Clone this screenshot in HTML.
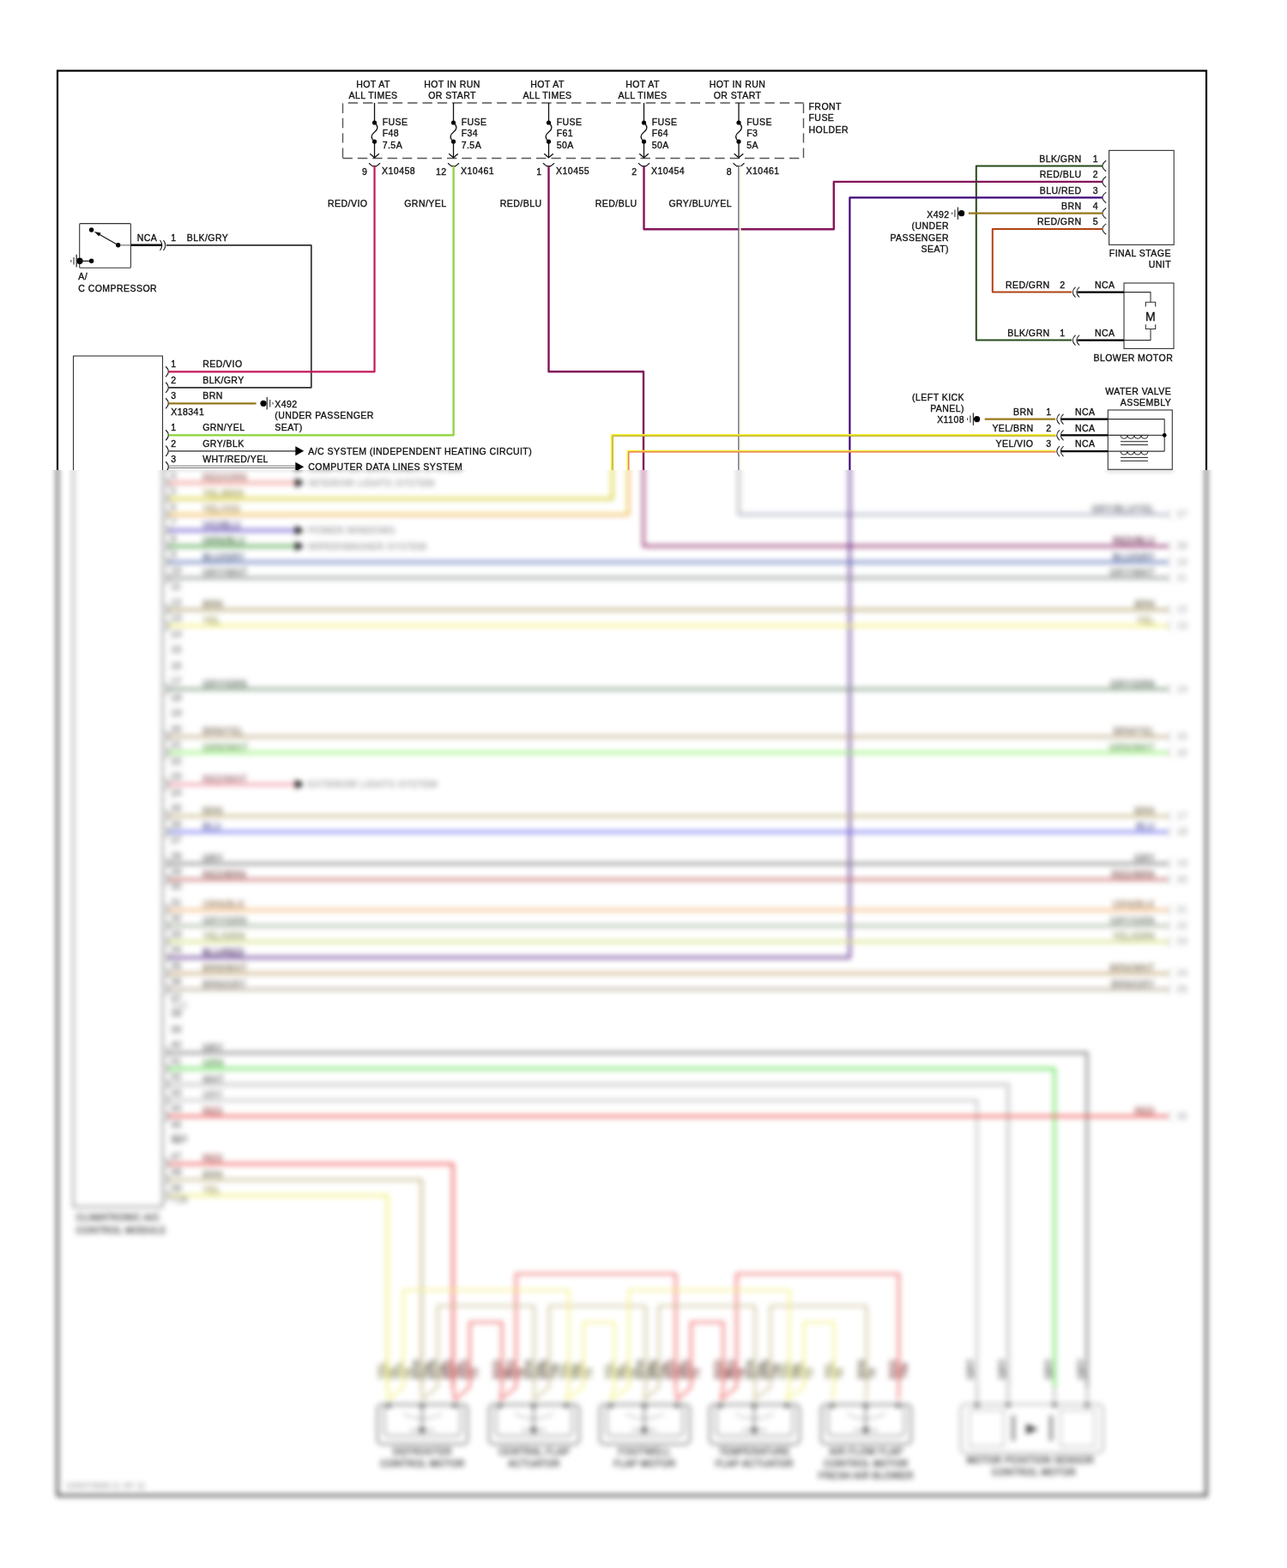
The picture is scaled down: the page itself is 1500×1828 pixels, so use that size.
<!DOCTYPE html>
<html><head><meta charset="utf-8"><title>Heater Wiring Diagram</title>
<style>
html,body{margin:0;padding:0;background:#fff;}
body{width:1500px;height:1828px;overflow:hidden;position:relative;}
svg{position:absolute;left:0;top:0;display:block;}
text{font-family:"Liberation Sans",Arial,Helvetica,sans-serif;font-size:10.5px;letter-spacing:0.45px;fill:#111;stroke:#111;stroke-width:0.35px;}
</style></head><body>
<svg width="1500" height="1828" viewBox="0 0 1500 1828">
<defs>
<filter id="lb" filterUnits="userSpaceOnUse" primitiveUnits="userSpaceOnUse" x="0" y="0" width="1500" height="1828" color-interpolation-filters="sRGB">
<feGaussianBlur in="SourceGraphic" stdDeviation="3" result="b"/>
<feFlood flood-color="#000" x="0" y="548" width="1500" height="1280" result="m1"/>
<feComposite in="b" in2="m1" operator="in" result="bm"/>
<feFlood flood-color="#000" x="0" y="0" width="1500" height="548" result="m2"/>
<feComposite in="SourceGraphic" in2="m2" operator="in" result="sm"/>
<feMerge><feMergeNode in="sm"/><feMergeNode in="bm"/></feMerge>
</filter>
</defs>
<g filter="url(#lb)">
<rect x="0" y="0" width="1500" height="1828" fill="#fff"/>
<rect x="67.0" y="82.5" width="1339.0" height="1661.0" rx="0" stroke="#000" stroke-width="2.2" fill="none"/>
<path d="M399.5 120 L936.5 120" fill="none" stroke="#555" stroke-width="1.4" stroke-dasharray="11.4 5.95" stroke-dashoffset="11.2"/>
<path d="M399.5 184.5 L936.5 184.5" fill="none" stroke="#555" stroke-width="1.4" stroke-dasharray="11.4 5.95" stroke-dashoffset="0"/>
<path d="M399.5 120.5 L399.5 184.5" fill="none" stroke="#555" stroke-width="1.4" stroke-dasharray="11.4 5.95" stroke-dashoffset="0"/>
<path d="M936.5 120.5 L936.5 184.5" fill="none" stroke="#555" stroke-width="1.4" stroke-dasharray="11.4 5.95" stroke-dashoffset="0"/>
<text x="435.0" y="101.6" text-anchor="middle">HOT AT</text>
<text x="435.0" y="115.0" text-anchor="middle">ALL TIMES</text>
<path d="M436.5 120.0 L436.5 143.0" stroke="#111" stroke-width="1.3" fill="none" stroke-linejoin="round"/>
<path d="M436.5 143 C441.5 147 440.5 151 436.5 154 C432.5 157 431.5 161 436.5 165" stroke="#111" stroke-width="1.3" fill="none"/>
<path d="M436.5 165.0 L436.5 183.8" stroke="#111" stroke-width="1.3" fill="none" stroke-linejoin="round"/>
<path d="M431.2 179.3 L436.5 183.8 L441.8 179.3" stroke="#111" stroke-width="1.3" fill="none" stroke-linejoin="round"/>
<circle cx="436.5" cy="143.0" r="2.6" fill="#000"/>
<circle cx="436.5" cy="165.0" r="2.6" fill="#000"/>
<text x="445.7" y="145.8">FUSE</text>
<text x="445.7" y="159.3">F48</text>
<text x="445.7" y="172.8">7.5A</text>
<path d="M430.0 190.3 L434.0 193.6 L439.0 193.6 L443.0 190.3" stroke="#111" stroke-width="1.2" fill="none" stroke-linejoin="round"/>
<text x="428.4" y="204.2" text-anchor="end">9</text>
<text x="445.1" y="203.4">X10458</text>
<text x="428.4" y="241.0" text-anchor="end">RED/VIO</text>
<text x="527.0" y="101.6" text-anchor="middle">HOT IN RUN</text>
<text x="527.0" y="115.0" text-anchor="middle">OR START</text>
<path d="M528.5 120.0 L528.5 143.0" stroke="#111" stroke-width="1.3" fill="none" stroke-linejoin="round"/>
<path d="M528.5 143 C533.5 147 532.5 151 528.5 154 C524.5 157 523.5 161 528.5 165" stroke="#111" stroke-width="1.3" fill="none"/>
<path d="M528.5 165.0 L528.5 183.8" stroke="#111" stroke-width="1.3" fill="none" stroke-linejoin="round"/>
<path d="M523.2 179.3 L528.5 183.8 L533.8 179.3" stroke="#111" stroke-width="1.3" fill="none" stroke-linejoin="round"/>
<circle cx="528.5" cy="143.0" r="2.6" fill="#000"/>
<circle cx="528.5" cy="165.0" r="2.6" fill="#000"/>
<text x="537.7" y="145.8">FUSE</text>
<text x="537.7" y="159.3">F34</text>
<text x="537.7" y="172.8">7.5A</text>
<path d="M522.0 190.3 L526.0 193.6 L531.0 193.6 L535.0 190.3" stroke="#111" stroke-width="1.2" fill="none" stroke-linejoin="round"/>
<text x="520.5" y="204.2" text-anchor="end">12</text>
<text x="537.1" y="203.4">X10461</text>
<text x="520.5" y="241.0" text-anchor="end">GRN/YEL</text>
<text x="638.0" y="101.6" text-anchor="middle">HOT AT</text>
<text x="638.0" y="115.0" text-anchor="middle">ALL TIMES</text>
<path d="M639.5 120.0 L639.5 143.0" stroke="#111" stroke-width="1.3" fill="none" stroke-linejoin="round"/>
<path d="M639.5 143 C644.5 147 643.5 151 639.5 154 C635.5 157 634.5 161 639.5 165" stroke="#111" stroke-width="1.3" fill="none"/>
<path d="M639.5 165.0 L639.5 183.8" stroke="#111" stroke-width="1.3" fill="none" stroke-linejoin="round"/>
<path d="M634.2 179.3 L639.5 183.8 L644.8 179.3" stroke="#111" stroke-width="1.3" fill="none" stroke-linejoin="round"/>
<circle cx="639.5" cy="143.0" r="2.6" fill="#000"/>
<circle cx="639.5" cy="165.0" r="2.6" fill="#000"/>
<text x="648.7" y="145.8">FUSE</text>
<text x="648.7" y="159.3">F61</text>
<text x="648.7" y="172.8">50A</text>
<path d="M633.0 190.3 L637.0 193.6 L642.0 193.6 L646.0 190.3" stroke="#111" stroke-width="1.2" fill="none" stroke-linejoin="round"/>
<text x="631.5" y="204.2" text-anchor="end">1</text>
<text x="648.1" y="203.4">X10455</text>
<text x="631.5" y="241.0" text-anchor="end">RED/BLU</text>
<text x="749.0" y="101.6" text-anchor="middle">HOT AT</text>
<text x="749.0" y="115.0" text-anchor="middle">ALL TIMES</text>
<path d="M750.5 120.0 L750.5 143.0" stroke="#111" stroke-width="1.3" fill="none" stroke-linejoin="round"/>
<path d="M750.5 143 C755.5 147 754.5 151 750.5 154 C746.5 157 745.5 161 750.5 165" stroke="#111" stroke-width="1.3" fill="none"/>
<path d="M750.5 165.0 L750.5 183.8" stroke="#111" stroke-width="1.3" fill="none" stroke-linejoin="round"/>
<path d="M745.2 179.3 L750.5 183.8 L755.8 179.3" stroke="#111" stroke-width="1.3" fill="none" stroke-linejoin="round"/>
<circle cx="750.5" cy="143.0" r="2.6" fill="#000"/>
<circle cx="750.5" cy="165.0" r="2.6" fill="#000"/>
<text x="759.7" y="145.8">FUSE</text>
<text x="759.7" y="159.3">F64</text>
<text x="759.7" y="172.8">50A</text>
<path d="M744.0 190.3 L748.0 193.6 L753.0 193.6 L757.0 190.3" stroke="#111" stroke-width="1.2" fill="none" stroke-linejoin="round"/>
<text x="742.5" y="204.2" text-anchor="end">2</text>
<text x="759.1" y="203.4">X10454</text>
<text x="742.5" y="241.0" text-anchor="end">RED/BLU</text>
<text x="859.5" y="101.6" text-anchor="middle">HOT IN RUN</text>
<text x="859.5" y="115.0" text-anchor="middle">OR START</text>
<path d="M861.0 120.0 L861.0 143.0" stroke="#111" stroke-width="1.3" fill="none" stroke-linejoin="round"/>
<path d="M861.0 143 C866.0 147 865.0 151 861.0 154 C857.0 157 856.0 161 861.0 165" stroke="#111" stroke-width="1.3" fill="none"/>
<path d="M861.0 165.0 L861.0 183.8" stroke="#111" stroke-width="1.3" fill="none" stroke-linejoin="round"/>
<path d="M855.7 179.3 L861.0 183.8 L866.3 179.3" stroke="#111" stroke-width="1.3" fill="none" stroke-linejoin="round"/>
<circle cx="861.0" cy="143.0" r="2.6" fill="#000"/>
<circle cx="861.0" cy="165.0" r="2.6" fill="#000"/>
<text x="870.2" y="145.8">FUSE</text>
<text x="870.2" y="159.3">F3</text>
<text x="870.2" y="172.8">5A</text>
<path d="M854.5 190.3 L858.5 193.6 L863.5 193.6 L867.5 190.3" stroke="#111" stroke-width="1.2" fill="none" stroke-linejoin="round"/>
<text x="853.0" y="204.2" text-anchor="end">8</text>
<text x="869.6" y="203.4">X10461</text>
<text x="853.0" y="241.0" text-anchor="end">GRY/BLU/YEL</text>
<text x="942.5" y="128.0">FRONT</text>
<text x="942.5" y="141.4">FUSE</text>
<text x="942.5" y="154.8">HOLDER</text>
<rect x="92.7" y="260.6" width="59.7" height="51.7" rx="1" stroke="#333" stroke-width="1.1" fill="none"/>
<circle cx="106.6" cy="268.0" r="2.7" fill="#000"/>
<circle cx="137.7" cy="285.8" r="2.7" fill="#000"/>
<path d="M137.7 285.8 L113.5 271.9" stroke="#111" stroke-width="1.2" fill="none" stroke-linejoin="round"/>
<path d="M109.8 269.9 L117.6 271.6 L115.2 275.4 Z" fill="#111"/>
<circle cx="92.9" cy="304.3" r="3.7" fill="#000"/>
<circle cx="106.6" cy="304.3" r="2.7" fill="#000"/>
<path d="M92.9 304.3 L106.6 304.3" stroke="#111" stroke-width="1.2" fill="none" stroke-linejoin="round"/>
<path d="M89.2 296.8 L89.2 311.6" stroke="#333" stroke-width="1.3" fill="none" stroke-linejoin="round"/>
<path d="M86.0 300.0 L86.0 308.6" stroke="#444" stroke-width="1.2" fill="none" stroke-linejoin="round"/>
<path d="M82.8 303.0 L82.8 305.8" stroke="#555" stroke-width="1.2" fill="none" stroke-linejoin="round"/>
<path d="M140.0 285.8 L152.5 285.8" stroke="#888" stroke-width="1.4" fill="none" stroke-linejoin="round"/>
<path d="M152.5 285.8 L188.5 285.8" stroke="#000" stroke-width="2.4" fill="none" stroke-linejoin="round"/>
<path d="M186.5 280 Q191 286 186.5 292" stroke="#111" stroke-width="1.1" fill="none"/>
<path d="M190.5 280 Q195 286 190.5 292" stroke="#111" stroke-width="1.1" fill="none"/>
<path d="M194.0 285.8 L362.8 285.8 L362.8 451.8 L196.6 451.8" stroke="#303030" stroke-width="1.7" fill="none" stroke-linejoin="round"/>
<text x="159.8" y="281.2">NCA</text>
<text x="199.3" y="281.2">1</text>
<text x="217.8" y="281.2">BLK/GRY</text>
<text x="91.3" y="326.2">A/</text>
<text x="91.3" y="339.6">C COMPRESSOR</text>
<rect x="85.5" y="415.0" width="104.0" height="992.0" rx="0" stroke="#333" stroke-width="1.1" fill="none"/>
<path d="M193.2 427.3 Q199.5 433.3 193.2 439.3" stroke="#1a1a1a" stroke-width="1.2" fill="none"/>
<path d="M193.2 445.8 Q199.5 451.8 193.2 457.8" stroke="#1a1a1a" stroke-width="1.2" fill="none"/>
<path d="M193.2 464.3 Q199.5 470.3 193.2 476.3" stroke="#1a1a1a" stroke-width="1.2" fill="none"/>
<path d="M196.6 433.3 L436.5 433.3 L436.5 193.6" stroke="#c4185a" stroke-width="2.2" fill="none" stroke-linejoin="round"/>
<text x="199.3" y="428.4">1</text>
<text x="236.2" y="428.4">RED/VIO</text>
<text x="199.3" y="446.9">2</text>
<text x="236.2" y="446.9">BLK/GRY</text>
<text x="199.3" y="465.4">3</text>
<text x="236.2" y="465.4">BRN</text>
<path d="M196.6 470.3 L298.5 470.3" stroke="#96781a" stroke-width="2.2" fill="none" stroke-linejoin="round"/>
<circle cx="307.0" cy="470.3" r="3.6" fill="#000"/>
<path d="M311.2 463.1 L311.2 477.5" stroke="#333" stroke-width="1.3" fill="none" stroke-linejoin="round"/>
<path d="M314.7 466.1 L314.7 474.5" stroke="#444" stroke-width="1.2" fill="none" stroke-linejoin="round"/>
<path d="M318.0 469.0 L318.0 471.6" stroke="#555" stroke-width="1.2" fill="none" stroke-linejoin="round"/>
<text x="320.3" y="474.6">X492</text>
<text x="320.3" y="488.2">(UNDER PASSENGER</text>
<text x="320.3" y="501.8">SEAT)</text>
<text x="199.3" y="483.8">X18341</text>
<path d="M193.2 501.3 Q199.5 507.3 193.2 513.3" stroke="#1a1a1a" stroke-width="1.2" fill="none"/>
<path d="M193.2 519.8 Q199.5 525.8 193.2 531.8" stroke="#1a1a1a" stroke-width="1.2" fill="none"/>
<path d="M193.2 538.3 Q199.5 544.3 193.2 550.3" stroke="#1a1a1a" stroke-width="1.2" fill="none"/>
<path d="M196.6 507.3 L528.6 507.3 L528.6 193.6" stroke="#8cd236" stroke-width="2.2" fill="none" stroke-linejoin="round"/>
<text x="199.3" y="502.4">1</text>
<text x="236.2" y="502.4">GRN/YEL</text>
<text x="199.3" y="520.9">2</text>
<text x="236.2" y="520.9">GRY/BLK</text>
<text x="199.3" y="539.4">3</text>
<text x="236.2" y="539.4">WHT/RED/YEL</text>
<path d="M196.6 525.8 L345.0 525.8" stroke="#666" stroke-width="1.7" fill="none" stroke-linejoin="round"/>
<path d="M196.6 543.1 L345.0 543.1" stroke="#777" stroke-width="1.0" fill="none" stroke-linejoin="round"/>
<path d="M196.6 545.5 L345.0 545.5" stroke="#777" stroke-width="1.0" fill="none" stroke-linejoin="round"/>
<path d="M344.3 520.3 L354.2 525.8 L344.3 531.3 Z" fill="#000"/>
<path d="M344.3 538.8 L354.2 544.3 L344.3 549.8 Z" fill="#000"/>
<text x="359.3" y="529.6">A/C SYSTEM (INDEPENDENT HEATING CIRCUIT)</text>
<text x="359.3" y="548.1">COMPUTER DATA LINES SYSTEM</text>
<path d="M639.5 193.6 L639.5 433.3 L750.0 433.3 L750.0 636.8 L1361.0 636.8" stroke="#84145a" stroke-width="2.4" fill="none" stroke-linejoin="round"/>
<path d="M750.5 193.6 L750.5 267.3 L971.8 267.3 L971.8 211.9 L1285.0 211.9" stroke="#84145a" stroke-width="2.4" fill="none" stroke-linejoin="round"/>
<path d="M862.6 193.6 L862.6 598.3" stroke="#fcf7d8" stroke-width="2.0" fill="none" stroke-linejoin="round"/>
<path d="M860.8 193.6 L860.8 599.8 L1361.0 599.8" stroke="#6a7090" stroke-width="1.4" fill="none" stroke-linejoin="round"/>
<rect x="1292.6" y="175.4" width="75.6" height="110.0" rx="0" stroke="#333" stroke-width="1.1" fill="none"/>
<path d="M1289.2 187.3 Q1280.6 193.5 1289.2 199.7" stroke="#222" stroke-width="1.1" fill="none"/>
<text x="1260.5" y="188.7" text-anchor="end">BLK/GRN</text>
<text x="1273.8" y="188.7">1</text>
<path d="M1289.2 205.7 Q1280.6 211.9 1289.2 218.1" stroke="#222" stroke-width="1.1" fill="none"/>
<text x="1260.5" y="207.1" text-anchor="end">RED/BLU</text>
<text x="1273.8" y="207.1">2</text>
<path d="M1289.2 224.1 Q1280.6 230.3 1289.2 236.5" stroke="#222" stroke-width="1.1" fill="none"/>
<text x="1260.5" y="225.5" text-anchor="end">BLU/RED</text>
<text x="1273.8" y="225.5">3</text>
<path d="M1289.2 242.5 Q1280.6 248.7 1289.2 254.9" stroke="#222" stroke-width="1.1" fill="none"/>
<text x="1260.5" y="243.9" text-anchor="end">BRN</text>
<text x="1273.8" y="243.9">4</text>
<path d="M1289.2 260.9 Q1280.6 267.1 1289.2 273.3" stroke="#222" stroke-width="1.1" fill="none"/>
<text x="1260.5" y="262.3" text-anchor="end">RED/GRN</text>
<text x="1273.8" y="262.3">5</text>
<text x="1292.8" y="299.2">FINAL STAGE</text>
<text x="1365.0" y="312.0" text-anchor="end">UNIT</text>
<path d="M1285.0 193.5 L1137.8 193.5 L1137.8 396.6 L1249.0 396.6" stroke="#274a1c" stroke-width="2.0" fill="none" stroke-linejoin="round"/>
<path d="M1285.0 230.3 L990.4 230.3 L990.4 1116.3 L196.6 1116.3" stroke="#40087a" stroke-width="2.2" fill="none" stroke-linejoin="round"/>
<path d="M1285.0 248.7 L1128.8 248.7" stroke="#96781a" stroke-width="2.2" fill="none" stroke-linejoin="round"/>
<path d="M1285.0 267.1 L1156.8 267.1 L1156.8 340.6 L1249.0 340.6" stroke="#b04414" stroke-width="2.0" fill="none" stroke-linejoin="round"/>
<circle cx="1120.6" cy="248.7" r="3.6" fill="#000"/>
<path d="M1116.4 241.5 L1116.4 255.9" stroke="#333" stroke-width="1.3" fill="none" stroke-linejoin="round"/>
<path d="M1112.9 244.5 L1112.9 252.9" stroke="#444" stroke-width="1.2" fill="none" stroke-linejoin="round"/>
<path d="M1109.6 247.4 L1109.6 250.0" stroke="#555" stroke-width="1.2" fill="none" stroke-linejoin="round"/>
<text x="1106.5" y="253.8" text-anchor="end">X492</text>
<text x="1106.0" y="267.3" text-anchor="end">(UNDER</text>
<text x="1106.0" y="280.8" text-anchor="end">PASSENGER</text>
<text x="1106.0" y="294.3" text-anchor="end">SEAT)</text>
<rect x="1310.0" y="330.0" width="58.0" height="76.4" rx="0" stroke="#333" stroke-width="1.1" fill="none"/>
<path d="M1253.5 334.6 Q1247 340.6 1253.5 346.6" stroke="#222" stroke-width="1.1" fill="none"/>
<path d="M1258 334.6 Q1251.5 340.6 1258 346.6" stroke="#222" stroke-width="1.1" fill="none"/>
<path d="M1255.5 340.6 L1310.0 340.6" stroke="#000" stroke-width="2.2" fill="none" stroke-linejoin="round"/>
<text x="1223.5" y="336.0" text-anchor="end">RED/GRN</text>
<text x="1235.2" y="336.0">2</text>
<text x="1276.0" y="336.0">NCA</text>
<path d="M1253.5 390.6 Q1247 396.6 1253.5 402.6" stroke="#222" stroke-width="1.1" fill="none"/>
<path d="M1258 390.6 Q1251.5 396.6 1258 402.6" stroke="#222" stroke-width="1.1" fill="none"/>
<path d="M1255.5 396.6 L1310.0 396.6" stroke="#000" stroke-width="2.2" fill="none" stroke-linejoin="round"/>
<text x="1223.5" y="392.0" text-anchor="end">BLK/GRN</text>
<text x="1235.2" y="392.0">1</text>
<text x="1276.0" y="392.0">NCA</text>
<path d="M1310.0 340.6 L1341.0 340.6 L1341.0 352.3" stroke="#333" stroke-width="1.1" fill="none" stroke-linejoin="round"/>
<path d="M1310.0 396.6 L1341.0 396.6 L1341.0 383.5" stroke="#333" stroke-width="1.1" fill="none" stroke-linejoin="round"/>
<path d="M1335.3 357.5 L1335.3 352.3 L1346.7 352.3 L1346.7 357.5" stroke="#333" stroke-width="1.1" fill="none" stroke-linejoin="round"/>
<path d="M1335.3 378.3 L1335.3 383.5 L1346.7 383.5 L1346.7 378.3" stroke="#333" stroke-width="1.1" fill="none" stroke-linejoin="round"/>
<text x="1341.0" y="373.5" text-anchor="middle" style="font-size:14px;">M</text>
<text x="1367.2" y="421.2" text-anchor="end">BLOWER MOTOR</text>
<rect x="1291.3" y="478.0" width="75.0" height="69.3" rx="0" stroke="#333" stroke-width="1.1" fill="none"/>
<path d="M1235 482.6 Q1228.5 488.6 1235 494.6" stroke="#222" stroke-width="1.1" fill="none"/>
<path d="M1239.5 482.6 Q1233 488.6 1239.5 494.6" stroke="#222" stroke-width="1.1" fill="none"/>
<path d="M1237.0 488.6 L1291.3 488.6" stroke="#000" stroke-width="2.2" fill="none" stroke-linejoin="round"/>
<path d="M1291.3 488.6 L1357.2 488.6" stroke="#333" stroke-width="1.1" fill="none" stroke-linejoin="round"/>
<text x="1204.5" y="483.7" text-anchor="end">BRN</text>
<text x="1219.2" y="483.7">1</text>
<text x="1253.0" y="483.7">NCA</text>
<path d="M1235 501.4 Q1228.5 507.4 1235 513.4" stroke="#222" stroke-width="1.1" fill="none"/>
<path d="M1239.5 501.4 Q1233 507.4 1239.5 513.4" stroke="#222" stroke-width="1.1" fill="none"/>
<path d="M1237.0 507.4 L1291.3 507.4" stroke="#000" stroke-width="2.2" fill="none" stroke-linejoin="round"/>
<path d="M1291.3 507.4 L1339.0 507.4" stroke="#333" stroke-width="1.1" fill="none" stroke-linejoin="round"/>
<text x="1204.5" y="502.5" text-anchor="end">YEL/BRN</text>
<text x="1219.2" y="502.5">2</text>
<text x="1253.0" y="502.5">NCA</text>
<path d="M1235 520.1 Q1228.5 526.1 1235 532.1" stroke="#222" stroke-width="1.1" fill="none"/>
<path d="M1239.5 520.1 Q1233 526.1 1239.5 532.1" stroke="#222" stroke-width="1.1" fill="none"/>
<path d="M1237.0 526.1 L1291.3 526.1" stroke="#000" stroke-width="2.2" fill="none" stroke-linejoin="round"/>
<path d="M1291.3 526.1 L1357.2 526.1" stroke="#333" stroke-width="1.1" fill="none" stroke-linejoin="round"/>
<text x="1204.5" y="521.2" text-anchor="end">YEL/VIO</text>
<text x="1219.2" y="521.2">3</text>
<text x="1253.0" y="521.2">NCA</text>
<path d="M1357.2 488.6 L1357.2 526.1" stroke="#333" stroke-width="1.1" fill="none" stroke-linejoin="round"/>
<path d="M1339.0 507.4 L1357.2 507.4" stroke="#333" stroke-width="1.1" fill="none" stroke-linejoin="round"/>
<circle cx="1357.2" cy="507.4" r="2.4" fill="#000"/>
<path d="M1306 507.4 Q1306 511.4 1310 511.4 Q1314 511.4 1314 507.4 Q1314 511.4 1318 511.4 Q1322 511.4 1322 507.4 Q1322 511.4 1326 511.4 Q1330 511.4 1330 507.4 Q1330 511.4 1334 511.4 Q1338 511.4 1338 507.4" stroke="#333" stroke-width="1" fill="none"/>
<path d="M1306.0 514.7 L1338.0 514.7" stroke="#333" stroke-width="1.1" fill="none" stroke-linejoin="round"/>
<path d="M1306.0 518.6 L1338.0 518.6" stroke="#333" stroke-width="1.1" fill="none" stroke-linejoin="round"/>
<path d="M1306 526.1 Q1306 530.1 1310 530.1 Q1314 530.1 1314 526.1 Q1314 530.1 1318 530.1 Q1322 530.1 1322 526.1 Q1322 530.1 1326 530.1 Q1330 530.1 1330 526.1 Q1330 530.1 1334 530.1 Q1338 530.1 1338 526.1" stroke="#333" stroke-width="1" fill="none"/>
<path d="M1306.0 533.4 L1338.0 533.4" stroke="#333" stroke-width="1.1" fill="none" stroke-linejoin="round"/>
<path d="M1306.0 537.3 L1338.0 537.3" stroke="#333" stroke-width="1.1" fill="none" stroke-linejoin="round"/>
<text x="1365.2" y="459.8" text-anchor="end">WATER VALVE</text>
<text x="1365.2" y="473.2" text-anchor="end">ASSEMBLY</text>
<text x="1124.0" y="466.6" text-anchor="end">(LEFT KICK</text>
<text x="1124.0" y="479.9" text-anchor="end">PANEL)</text>
<text x="1124.0" y="493.3" text-anchor="end">X1108</text>
<path d="M1230.0 488.6 L1147.7 488.6" stroke="#96781a" stroke-width="2.2" fill="none" stroke-linejoin="round"/>
<circle cx="1138.6" cy="488.6" r="3.6" fill="#000"/>
<path d="M1134.4 481.4 L1134.4 495.8" stroke="#333" stroke-width="1.3" fill="none" stroke-linejoin="round"/>
<path d="M1130.9 484.4 L1130.9 492.8" stroke="#444" stroke-width="1.2" fill="none" stroke-linejoin="round"/>
<path d="M1127.6 487.3 L1127.6 489.9" stroke="#555" stroke-width="1.2" fill="none" stroke-linejoin="round"/>
<path d="M1230.0 507.4 L713.3 507.4 L713.3 581.3 L196.6 581.3" stroke="#f4ee30" stroke-width="2.8" fill="none" stroke-linejoin="round"/>
<path d="M1230.8 508.2 L714.1 508.2 L714.1 582.1 L197.4 582.1" stroke="#a89830" stroke-width="1.0" fill="none" stroke-linejoin="round"/>
<path d="M1230.0 526.1 L732.0 526.1 L732.0 599.8 L196.6 599.8" stroke="#f4ee30" stroke-width="2.8" fill="none" stroke-linejoin="round"/>
<path d="M1230.8 526.9 L732.8 526.9 L732.8 600.6 L197.4 600.6" stroke="#e8507a" stroke-width="1.0" fill="none" stroke-linejoin="round"/>
<path d="M193.2 556.8 Q199.5 562.8 193.2 568.8" stroke="#1a1a1a" stroke-width="1.2" fill="none"/>
<text x="236.2" y="560.2" style="fill:#9d6a65;stroke:#9d6a65;stroke-width:0.45px;">RED/ORN</text>
<path d="M196.6 562.8 L345.0 562.8" stroke="#f08a80" stroke-width="2.7" fill="none" stroke-linejoin="round"/>
<path d="M344.3 557.3 L354.2 562.8 L344.3 568.3 Z" fill="#000"/>
<text x="359.3" y="566.6" style="fill:#767676;stroke:none;">INTERIOR LIGHTS SYSTEM</text>
<path d="M193.2 575.3 Q199.5 581.3 193.2 587.3" stroke="#1a1a1a" stroke-width="1.2" fill="none"/>
<text x="236.2" y="578.7" style="fill:#9d994d;stroke:#9d994d;stroke-width:0.45px;">YEL/BRN</text>
<path d="M193.2 593.8 Q199.5 599.8 193.2 605.8" stroke="#1a1a1a" stroke-width="1.2" fill="none"/>
<text x="236.2" y="597.2" style="fill:#9d855d;stroke:#9d855d;stroke-width:0.45px;">YEL/VIO</text>
<path d="M193.2 612.3 Q199.5 618.3 193.2 624.3" stroke="#1a1a1a" stroke-width="1.2" fill="none"/>
<text x="236.2" y="615.7" style="fill:#554989;stroke:#554989;stroke-width:0.45px;">VIO/BLU</text>
<path d="M196.6 618.3 L345.0 618.3" stroke="#6048c8" stroke-width="2.7" fill="none" stroke-linejoin="round"/>
<path d="M344.3 612.8 L354.2 618.3 L344.3 623.8 Z" fill="#000"/>
<text x="359.3" y="622.1" style="fill:#767676;stroke:none;">POWER WINDOWS</text>
<path d="M193.2 630.8 Q199.5 636.8 193.2 642.8" stroke="#1a1a1a" stroke-width="1.2" fill="none"/>
<text x="236.2" y="634.2" style="fill:#447241;stroke:#447241;stroke-width:0.45px;">GRN/BLU</text>
<path d="M196.6 636.8 L345.0 636.8" stroke="#3f9a38" stroke-width="2.7" fill="none" stroke-linejoin="round"/>
<path d="M344.3 631.3 L354.2 636.8 L344.3 642.3 Z" fill="#000"/>
<text x="359.3" y="640.6" style="fill:#767676;stroke:none;">WIPER/WASHER SYSTEM</text>
<path d="M193.2 649.3 Q199.5 655.3 193.2 661.3" stroke="#1a1a1a" stroke-width="1.2" fill="none"/>
<text x="236.2" y="652.7" style="fill:#525e81;stroke:#525e81;stroke-width:0.45px;">BLU/GRY</text>
<path d="M196.6 655.3 L1361.0 655.3" stroke="#5a72b8" stroke-width="2.7" fill="none" stroke-linejoin="round"/>
<path d="M1364.5 649.3 Q1358.5 655.3 1364.5 661.3" stroke="#999" stroke-width="1" fill="none"/>
<text x="1346.0" y="652.7" text-anchor="end" style="fill:#525e81;stroke:#525e81;stroke-width:0.45px;">BLU/GRY</text>
<text x="1371.5" y="658.9" style="fill:#8a8a8a;stroke:none;">10</text>
<path d="M193.2 667.8 Q199.5 673.8 193.2 679.8" stroke="#1a1a1a" stroke-width="1.2" fill="none"/>
<text x="236.2" y="671.2" style="fill:#6b6d6d;stroke:#6b6d6d;stroke-width:0.45px;">GRY/WHT</text>
<path d="M196.6 673.8 L1361.0 673.8" stroke="#8c9090" stroke-width="2.7" fill="none" stroke-linejoin="round"/>
<path d="M1364.5 667.8 Q1358.5 673.8 1364.5 679.8" stroke="#999" stroke-width="1" fill="none"/>
<text x="1346.0" y="671.2" text-anchor="end" style="fill:#6b6d6d;stroke:#6b6d6d;stroke-width:0.45px;">GRY/WHT</text>
<text x="1371.5" y="677.4" style="fill:#8a8a8a;stroke:none;">11</text>
<path d="M193.2 704.8 Q199.5 710.8 193.2 716.8" stroke="#1a1a1a" stroke-width="1.2" fill="none"/>
<text x="236.2" y="708.2" style="fill:#7f765b;stroke:#7f765b;stroke-width:0.45px;">BRN</text>
<path d="M196.6 710.8 L1361.0 710.8" stroke="#b4a26c" stroke-width="2.7" fill="none" stroke-linejoin="round"/>
<path d="M1364.5 704.8 Q1358.5 710.8 1364.5 716.8" stroke="#999" stroke-width="1" fill="none"/>
<text x="1346.0" y="708.2" text-anchor="end" style="fill:#7f765b;stroke:#7f765b;stroke-width:0.45px;">BRN</text>
<text x="1371.5" y="714.4" style="fill:#8a8a8a;stroke:none;">12</text>
<path d="M193.2 723.3 Q199.5 729.3 193.2 735.3" stroke="#1a1a1a" stroke-width="1.2" fill="none"/>
<text x="236.2" y="726.7" style="fill:#9e9c5d;stroke:#9e9c5d;stroke-width:0.45px;">YEL</text>
<path d="M196.6 729.3 L1361.0 729.3" stroke="#f2ee70" stroke-width="2.7" fill="none" stroke-linejoin="round"/>
<path d="M1364.5 723.3 Q1358.5 729.3 1364.5 735.3" stroke="#999" stroke-width="1" fill="none"/>
<text x="1346.0" y="726.7" text-anchor="end" style="fill:#9e9c5d;stroke:#9e9c5d;stroke-width:0.45px;">YEL</text>
<text x="1371.5" y="732.9" style="fill:#8a8a8a;stroke:none;">13</text>
<path d="M193.2 797.3 Q199.5 803.3 193.2 809.3" stroke="#1a1a1a" stroke-width="1.2" fill="none"/>
<text x="236.2" y="800.7" style="fill:#617063;stroke:#617063;stroke-width:0.45px;">GRY/GRN</text>
<path d="M196.6 803.3 L1361.0 803.3" stroke="#78967c" stroke-width="2.7" fill="none" stroke-linejoin="round"/>
<path d="M1364.5 797.3 Q1358.5 803.3 1364.5 809.3" stroke="#999" stroke-width="1" fill="none"/>
<text x="1346.0" y="800.7" text-anchor="end" style="fill:#617063;stroke:#617063;stroke-width:0.45px;">GRY/GRN</text>
<text x="1371.5" y="806.9" style="fill:#8a8a8a;stroke:none;">14</text>
<path d="M193.2 852.8 Q199.5 858.8 193.2 864.8" stroke="#1a1a1a" stroke-width="1.2" fill="none"/>
<text x="236.2" y="856.2" style="fill:#857a67;stroke:#857a67;stroke-width:0.45px;">BRN/YEL</text>
<path d="M196.6 858.8 L1361.0 858.8" stroke="#c0aa84" stroke-width="2.7" fill="none" stroke-linejoin="round"/>
<path d="M1364.5 852.8 Q1358.5 858.8 1364.5 864.8" stroke="#999" stroke-width="1" fill="none"/>
<text x="1346.0" y="856.2" text-anchor="end" style="fill:#857a67;stroke:#857a67;stroke-width:0.45px;">BRN/YEL</text>
<text x="1371.5" y="862.4" style="fill:#8a8a8a;stroke:none;">15</text>
<path d="M193.2 871.3 Q199.5 877.3 193.2 883.3" stroke="#1a1a1a" stroke-width="1.2" fill="none"/>
<text x="236.2" y="874.7" style="fill:#6b9d5b;stroke:#6b9d5b;stroke-width:0.45px;">GRN/WHT</text>
<path d="M196.6 877.3 L1361.0 877.3" stroke="#8cf06c" stroke-width="2.7" fill="none" stroke-linejoin="round"/>
<path d="M1364.5 871.3 Q1358.5 877.3 1364.5 883.3" stroke="#999" stroke-width="1" fill="none"/>
<text x="1346.0" y="874.7" text-anchor="end" style="fill:#6b9d5b;stroke:#6b9d5b;stroke-width:0.45px;">GRN/WHT</text>
<text x="1371.5" y="880.9" style="fill:#8a8a8a;stroke:none;">16</text>
<path d="M193.2 908.3 Q199.5 914.3 193.2 920.3" stroke="#1a1a1a" stroke-width="1.2" fill="none"/>
<text x="236.2" y="911.7" style="fill:#9d6b73;stroke:#9d6b73;stroke-width:0.45px;">RED/WHT</text>
<path d="M196.6 914.3 L345.0 914.3" stroke="#f08c9c" stroke-width="2.7" fill="none" stroke-linejoin="round"/>
<path d="M344.3 908.8 L354.2 914.3 L344.3 919.8 Z" fill="#000"/>
<text x="359.3" y="918.1" style="fill:#767676;stroke:none;">EXTERIOR LIGHTS SYSTEM</text>
<path d="M193.2 945.3 Q199.5 951.3 193.2 957.3" stroke="#1a1a1a" stroke-width="1.2" fill="none"/>
<text x="236.2" y="948.7" style="fill:#877f65;stroke:#877f65;stroke-width:0.45px;">BRN</text>
<path d="M196.6 951.3 L1361.0 951.3" stroke="#c4b480" stroke-width="2.7" fill="none" stroke-linejoin="round"/>
<path d="M1364.5 945.3 Q1358.5 951.3 1364.5 957.3" stroke="#999" stroke-width="1" fill="none"/>
<text x="1346.0" y="948.7" text-anchor="end" style="fill:#877f65;stroke:#877f65;stroke-width:0.45px;">BRN</text>
<text x="1371.5" y="954.9" style="fill:#8a8a8a;stroke:none;">17</text>
<path d="M193.2 963.8 Q199.5 969.8 193.2 975.8" stroke="#1a1a1a" stroke-width="1.2" fill="none"/>
<text x="236.2" y="967.2" style="fill:#5b5b9d;stroke:#5b5b9d;stroke-width:0.45px;">BLU</text>
<path d="M196.6 969.8 L1361.0 969.8" stroke="#6c6cf0" stroke-width="2.7" fill="none" stroke-linejoin="round"/>
<path d="M1364.5 963.8 Q1358.5 969.8 1364.5 975.8" stroke="#999" stroke-width="1" fill="none"/>
<text x="1346.0" y="967.2" text-anchor="end" style="fill:#5b5b9d;stroke:#5b5b9d;stroke-width:0.45px;">BLU</text>
<text x="1371.5" y="973.4" style="fill:#8a8a8a;stroke:none;">18</text>
<path d="M193.2 1000.8 Q199.5 1006.8 193.2 1012.8" stroke="#1a1a1a" stroke-width="1.2" fill="none"/>
<text x="236.2" y="1004.2" style="fill:#636363;stroke:#636363;stroke-width:0.45px;">GRY</text>
<path d="M196.6 1006.8 L1361.0 1006.8" stroke="#7c7c7c" stroke-width="2.7" fill="none" stroke-linejoin="round"/>
<path d="M1364.5 1000.8 Q1358.5 1006.8 1364.5 1012.8" stroke="#999" stroke-width="1" fill="none"/>
<text x="1346.0" y="1004.2" text-anchor="end" style="fill:#636363;stroke:#636363;stroke-width:0.45px;">GRY</text>
<text x="1371.5" y="1010.4" style="fill:#8a8a8a;stroke:none;">19</text>
<path d="M193.2 1019.3 Q199.5 1025.3 193.2 1031.3" stroke="#1a1a1a" stroke-width="1.2" fill="none"/>
<text x="236.2" y="1022.7" style="fill:#875a5a;stroke:#875a5a;stroke-width:0.45px;">RED/BRN</text>
<path d="M196.6 1025.3 L1361.0 1025.3" stroke="#c46a6a" stroke-width="2.7" fill="none" stroke-linejoin="round"/>
<path d="M1364.5 1019.3 Q1358.5 1025.3 1364.5 1031.3" stroke="#999" stroke-width="1" fill="none"/>
<text x="1346.0" y="1022.7" text-anchor="end" style="fill:#875a5a;stroke:#875a5a;stroke-width:0.45px;">RED/BRN</text>
<text x="1371.5" y="1028.9" style="fill:#8a8a8a;stroke:none;">20</text>
<path d="M193.2 1054.8 Q199.5 1060.8 193.2 1066.8" stroke="#1a1a1a" stroke-width="1.2" fill="none"/>
<text x="236.2" y="1058.2" style="fill:#9f7f5f;stroke:#9f7f5f;stroke-width:0.45px;">ORN/BLK</text>
<path d="M196.6 1060.8 L1361.0 1060.8" stroke="#f4b474" stroke-width="2.7" fill="none" stroke-linejoin="round"/>
<path d="M1364.5 1054.8 Q1358.5 1060.8 1364.5 1066.8" stroke="#999" stroke-width="1" fill="none"/>
<text x="1346.0" y="1058.2" text-anchor="end" style="fill:#9f7f5f;stroke:#9f7f5f;stroke-width:0.45px;">ORN/BLK</text>
<text x="1371.5" y="1064.4" style="fill:#8a8a8a;stroke:none;">21</text>
<path d="M193.2 1073.3 Q199.5 1079.3 193.2 1085.3" stroke="#1a1a1a" stroke-width="1.2" fill="none"/>
<text x="236.2" y="1076.7" style="fill:#757d71;stroke:#757d71;stroke-width:0.45px;">GRY/GRN</text>
<path d="M196.6 1079.3 L1361.0 1079.3" stroke="#a0b098" stroke-width="2.7" fill="none" stroke-linejoin="round"/>
<path d="M1364.5 1073.3 Q1358.5 1079.3 1364.5 1085.3" stroke="#999" stroke-width="1" fill="none"/>
<text x="1346.0" y="1076.7" text-anchor="end" style="fill:#757d71;stroke:#757d71;stroke-width:0.45px;">GRY/GRN</text>
<text x="1371.5" y="1082.9" style="fill:#8a8a8a;stroke:none;">22</text>
<path d="M193.2 1091.8 Q199.5 1097.8 193.2 1103.8" stroke="#1a1a1a" stroke-width="1.2" fill="none"/>
<text x="236.2" y="1095.2" style="fill:#8f9563;stroke:#8f9563;stroke-width:0.45px;">YEL/GRN</text>
<path d="M196.6 1097.8 L1361.0 1097.8" stroke="#d4e07c" stroke-width="2.7" fill="none" stroke-linejoin="round"/>
<path d="M1364.5 1091.8 Q1358.5 1097.8 1364.5 1103.8" stroke="#999" stroke-width="1" fill="none"/>
<text x="1346.0" y="1095.2" text-anchor="end" style="fill:#8f9563;stroke:#8f9563;stroke-width:0.45px;">YEL/GRN</text>
<text x="1371.5" y="1101.4" style="fill:#8a8a8a;stroke:none;">23</text>
<path d="M193.2 1110.3 Q199.5 1116.3 193.2 1122.3" stroke="#1a1a1a" stroke-width="1.2" fill="none"/>
<text x="236.2" y="1113.7" style="fill:#452962;stroke:#452962;stroke-width:0.45px;">BLU/RED</text>
<path d="M193.2 1128.8 Q199.5 1134.8 193.2 1140.8" stroke="#1a1a1a" stroke-width="1.2" fill="none"/>
<text x="236.2" y="1132.2" style="fill:#87775f;stroke:#87775f;stroke-width:0.45px;">BRN/WHT</text>
<path d="M196.6 1134.8 L1361.0 1134.8" stroke="#c4a474" stroke-width="2.7" fill="none" stroke-linejoin="round"/>
<path d="M1364.5 1128.8 Q1358.5 1134.8 1364.5 1140.8" stroke="#999" stroke-width="1" fill="none"/>
<text x="1346.0" y="1132.2" text-anchor="end" style="fill:#87775f;stroke:#87775f;stroke-width:0.45px;">BRN/WHT</text>
<text x="1371.5" y="1138.4" style="fill:#8a8a8a;stroke:none;">24</text>
<path d="M193.2 1147.3 Q199.5 1153.3 193.2 1159.3" stroke="#1a1a1a" stroke-width="1.2" fill="none"/>
<text x="236.2" y="1150.7" style="fill:#7f796f;stroke:#7f796f;stroke-width:0.45px;">BRN/GRY</text>
<path d="M196.6 1153.3 L1361.0 1153.3" stroke="#b4a894" stroke-width="2.7" fill="none" stroke-linejoin="round"/>
<path d="M1364.5 1147.3 Q1358.5 1153.3 1364.5 1159.3" stroke="#999" stroke-width="1" fill="none"/>
<text x="1346.0" y="1150.7" text-anchor="end" style="fill:#7f796f;stroke:#7f796f;stroke-width:0.45px;">BRN/GRY</text>
<text x="1371.5" y="1156.9" style="fill:#8a8a8a;stroke:none;">25</text>
<path d="M193.2 1221.3 Q199.5 1227.3 193.2 1233.3" stroke="#1a1a1a" stroke-width="1.2" fill="none"/>
<text x="236.2" y="1224.7" style="fill:#656565;stroke:#656565;stroke-width:0.45px;">GRY</text>
<path d="M196.6 1227.3 L1267.0 1227.3 L1267.0 1617.0" stroke="#808080" stroke-width="2.7" fill="none" stroke-linejoin="round"/>
<path d="M193.2 1239.8 Q199.5 1245.8 193.2 1251.8" stroke="#1a1a1a" stroke-width="1.2" fill="none"/>
<text x="236.2" y="1243.2" style="fill:#54954d;stroke:#54954d;stroke-width:0.45px;">GRN</text>
<path d="M196.6 1245.8 L1229.0 1245.8 L1229.0 1617.0" stroke="#5ee050" stroke-width="2.7" fill="none" stroke-linejoin="round"/>
<path d="M193.2 1258.3 Q199.5 1264.3 193.2 1270.3" stroke="#1a1a1a" stroke-width="1.2" fill="none"/>
<text x="236.2" y="1261.7" style="fill:#727272;stroke:#727272;stroke-width:0.45px;">WHT</text>
<path d="M196.6 1263.1 L1176.2 1263.1 L1176.2 1617.0" stroke="#9a9a9a" stroke-width="1.0" fill="none" stroke-linejoin="round"/>
<path d="M196.6 1265.5 L1173.8 1265.5 L1173.8 1617.0" stroke="#9a9a9a" stroke-width="1.0" fill="none" stroke-linejoin="round"/>
<path d="M193.2 1276.8 Q199.5 1282.8 193.2 1288.8" stroke="#1a1a1a" stroke-width="1.2" fill="none"/>
<text x="236.2" y="1280.2" style="fill:#878787;stroke:#878787;stroke-width:0.45px;">GRY</text>
<path d="M196.6 1282.8 L1138.7 1282.8 L1138.7 1617.0" stroke="#c4c4c4" stroke-width="2.7" fill="none" stroke-linejoin="round"/>
<path d="M193.2 1295.3 Q199.5 1301.3 193.2 1307.3" stroke="#1a1a1a" stroke-width="1.2" fill="none"/>
<text x="236.2" y="1298.7" style="fill:#9d4f4f;stroke:#9d4f4f;stroke-width:0.45px;">RED</text>
<path d="M196.6 1301.3 L1361.0 1301.3" stroke="#f05454" stroke-width="2.7" fill="none" stroke-linejoin="round"/>
<path d="M1364.5 1295.3 Q1358.5 1301.3 1364.5 1307.3" stroke="#999" stroke-width="1" fill="none"/>
<text x="1346.0" y="1298.7" text-anchor="end" style="fill:#9d4f4f;stroke:#9d4f4f;stroke-width:0.45px;">RED</text>
<text x="1371.5" y="1304.9" style="fill:#8a8a8a;stroke:none;">26</text>
<path d="M193.2 1350.8 Q199.5 1356.8 193.2 1362.8" stroke="#1a1a1a" stroke-width="1.2" fill="none"/>
<text x="236.2" y="1354.2" style="fill:#9d5252;stroke:#9d5252;stroke-width:0.45px;">RED</text>
<path d="M196.6 1356.8 L528.0 1356.8 L528.0 1617.0" stroke="#f05a5a" stroke-width="2.7" fill="none" stroke-linejoin="round"/>
<path d="M193.2 1369.3 Q199.5 1375.3 193.2 1381.3" stroke="#1a1a1a" stroke-width="1.2" fill="none"/>
<text x="236.2" y="1372.7" style="fill:#89836d;stroke:#89836d;stroke-width:0.45px;">BRN</text>
<path d="M196.6 1375.3 L491.5 1375.3 L491.5 1617.0" stroke="#c8bc90" stroke-width="2.7" fill="none" stroke-linejoin="round"/>
<path d="M193.2 1387.8 Q199.5 1393.8 193.2 1399.8" stroke="#1a1a1a" stroke-width="1.2" fill="none"/>
<text x="236.2" y="1391.2" style="fill:#9f9d62;stroke:#9f9d62;stroke-width:0.45px;">YEL</text>
<path d="M196.6 1393.8 L451.5 1393.8 L451.5 1617.0" stroke="#f4f07a" stroke-width="2.7" fill="none" stroke-linejoin="round"/>
<path d="M1364.5 593.8 Q1358.5 599.8 1364.5 605.8" stroke="#999" stroke-width="1" fill="none"/>
<text x="1346.0" y="597.2" text-anchor="end" style="fill:#6a6d79;stroke:#6a6d79;stroke-width:0.45px;">GRY/BLU/YEL</text>
<text x="1371.5" y="603.4" style="fill:#8a8a8a;stroke:none;">27</text>
<path d="M1364.5 630.8 Q1358.5 636.8 1364.5 642.8" stroke="#999" stroke-width="1" fill="none"/>
<text x="1346.0" y="634.2" text-anchor="end" style="fill:#672f52;stroke:#672f52;stroke-width:0.45px;">RED/BLU</text>
<text x="1371.5" y="640.4" style="fill:#8a8a8a;stroke:none;">28</text>
<text x="199.3" y="557.9" style="fill:#6a6a6a;stroke:#6a6a6a;stroke-width:0.3px;">4</text>
<text x="199.3" y="576.4" style="fill:#6a6a6a;stroke:#6a6a6a;stroke-width:0.3px;">5</text>
<text x="199.3" y="594.9" style="fill:#6a6a6a;stroke:#6a6a6a;stroke-width:0.3px;">6</text>
<text x="199.3" y="613.4" style="fill:#6a6a6a;stroke:#6a6a6a;stroke-width:0.3px;">7</text>
<text x="199.3" y="631.9" style="fill:#6a6a6a;stroke:#6a6a6a;stroke-width:0.3px;">8</text>
<text x="199.3" y="650.4" style="fill:#6a6a6a;stroke:#6a6a6a;stroke-width:0.3px;">9</text>
<text x="199.3" y="668.9" style="fill:#6a6a6a;stroke:#6a6a6a;stroke-width:0.3px;">10</text>
<text x="199.3" y="687.4" style="fill:#6a6a6a;stroke:#6a6a6a;stroke-width:0.3px;">11</text>
<text x="199.3" y="705.9" style="fill:#6a6a6a;stroke:#6a6a6a;stroke-width:0.3px;">12</text>
<text x="199.3" y="724.4" style="fill:#6a6a6a;stroke:#6a6a6a;stroke-width:0.3px;">13</text>
<text x="199.3" y="742.9" style="fill:#6a6a6a;stroke:#6a6a6a;stroke-width:0.3px;">14</text>
<text x="199.3" y="761.4" style="fill:#6a6a6a;stroke:#6a6a6a;stroke-width:0.3px;">15</text>
<text x="199.3" y="779.9" style="fill:#6a6a6a;stroke:#6a6a6a;stroke-width:0.3px;">16</text>
<text x="199.3" y="798.4" style="fill:#6a6a6a;stroke:#6a6a6a;stroke-width:0.3px;">17</text>
<text x="199.3" y="816.9" style="fill:#6a6a6a;stroke:#6a6a6a;stroke-width:0.3px;">18</text>
<text x="199.3" y="835.4" style="fill:#6a6a6a;stroke:#6a6a6a;stroke-width:0.3px;">19</text>
<text x="199.3" y="853.9" style="fill:#6a6a6a;stroke:#6a6a6a;stroke-width:0.3px;">20</text>
<text x="199.3" y="872.4" style="fill:#6a6a6a;stroke:#6a6a6a;stroke-width:0.3px;">21</text>
<text x="199.3" y="890.9" style="fill:#6a6a6a;stroke:#6a6a6a;stroke-width:0.3px;">22</text>
<text x="199.3" y="909.4" style="fill:#6a6a6a;stroke:#6a6a6a;stroke-width:0.3px;">23</text>
<text x="199.3" y="927.9" style="fill:#6a6a6a;stroke:#6a6a6a;stroke-width:0.3px;">24</text>
<text x="199.3" y="946.4" style="fill:#6a6a6a;stroke:#6a6a6a;stroke-width:0.3px;">25</text>
<text x="199.3" y="964.9" style="fill:#6a6a6a;stroke:#6a6a6a;stroke-width:0.3px;">26</text>
<text x="199.3" y="983.4" style="fill:#6a6a6a;stroke:#6a6a6a;stroke-width:0.3px;">27</text>
<text x="199.3" y="1001.9" style="fill:#6a6a6a;stroke:#6a6a6a;stroke-width:0.3px;">28</text>
<text x="199.3" y="1020.4" style="fill:#6a6a6a;stroke:#6a6a6a;stroke-width:0.3px;">29</text>
<text x="199.3" y="1037.4" style="fill:#6a6a6a;stroke:#6a6a6a;stroke-width:0.3px;">30</text>
<text x="199.3" y="1055.9" style="fill:#6a6a6a;stroke:#6a6a6a;stroke-width:0.3px;">31</text>
<text x="199.3" y="1074.4" style="fill:#6a6a6a;stroke:#6a6a6a;stroke-width:0.3px;">32</text>
<text x="199.3" y="1092.9" style="fill:#6a6a6a;stroke:#6a6a6a;stroke-width:0.3px;">33</text>
<text x="199.3" y="1111.4" style="fill:#6a6a6a;stroke:#6a6a6a;stroke-width:0.3px;">34</text>
<text x="199.3" y="1129.9" style="fill:#6a6a6a;stroke:#6a6a6a;stroke-width:0.3px;">35</text>
<text x="199.3" y="1148.4" style="fill:#6a6a6a;stroke:#6a6a6a;stroke-width:0.3px;">36</text>
<text x="199.3" y="1166.9" style="fill:#6a6a6a;stroke:#6a6a6a;stroke-width:0.3px;">37</text>
<text x="199.3" y="1185.4" style="fill:#6a6a6a;stroke:#6a6a6a;stroke-width:0.3px;">38</text>
<text x="199.3" y="1203.9" style="fill:#6a6a6a;stroke:#6a6a6a;stroke-width:0.3px;">39</text>
<text x="199.3" y="1222.4" style="fill:#6a6a6a;stroke:#6a6a6a;stroke-width:0.3px;">40</text>
<text x="199.3" y="1240.9" style="fill:#6a6a6a;stroke:#6a6a6a;stroke-width:0.3px;">41</text>
<text x="199.3" y="1259.4" style="fill:#6a6a6a;stroke:#6a6a6a;stroke-width:0.3px;">42</text>
<text x="199.3" y="1277.9" style="fill:#6a6a6a;stroke:#6a6a6a;stroke-width:0.3px;">43</text>
<text x="199.3" y="1296.4" style="fill:#6a6a6a;stroke:#6a6a6a;stroke-width:0.3px;">44</text>
<text x="199.3" y="1314.9" style="fill:#6a6a6a;stroke:#6a6a6a;stroke-width:0.3px;">45</text>
<text x="199.3" y="1333.4" style="fill:#6a6a6a;stroke:#6a6a6a;stroke-width:0.3px;">46</text>
<text x="199.3" y="1351.9" style="fill:#6a6a6a;stroke:#6a6a6a;stroke-width:0.3px;">47</text>
<text x="199.3" y="1370.4" style="fill:#6a6a6a;stroke:#6a6a6a;stroke-width:0.3px;">48</text>
<text x="199.3" y="1388.9" style="fill:#6a6a6a;stroke:#6a6a6a;stroke-width:0.3px;">49</text>
<text x="199.3" y="1330.5" style="fill:#777;stroke:#777;stroke-width:0.3px;">T16</text>
<text x="199.3" y="1402.0" style="fill:#777;stroke:#777;stroke-width:0.3px;">T16</text>
<text x="199.3" y="1175.8" style="fill:#999;stroke:none;">T32</text>
<text x="88.5" y="1423.0" style="fill:#404040;stroke:#404040;stroke-width:0.4px;">CLIMATRONIC A/C</text>
<text x="88.5" y="1437.5" style="fill:#404040;stroke:#404040;stroke-width:0.4px;">CONTROL MODULE</text>
<text x="77.5" y="1735.0" style="font-size:9px;fill:#707070;stroke:none;">G00473565 (1 OF 2)</text>
<rect x="440.0" y="1637.5" width="105" height="46" rx="5" fill="none" stroke="#777" stroke-width="2"/>
<path d="M448.0 1640 L448.0 1668 Q448.0 1674 454.0 1674 L531.0 1674 Q537.0 1674 537.0 1668 L537.0 1640" fill="none" stroke="#808080" stroke-width="1.6"/>
<path d="M470.0 1648 Q492.0 1660 515.0 1648" fill="none" stroke="#999" stroke-width="1.2"/>
<path d="M492.0 1640.0 L492.0 1662.0" stroke="#555" stroke-width="1.5" fill="none" stroke-linejoin="round"/>
<circle cx="492.0" cy="1667.0" r="3.2" fill="#333"/>
<path d="M478.0 1667.0 L506.0 1667.0" stroke="#777" stroke-width="1.2" fill="none" stroke-linejoin="round"/>
<circle cx="453.0" cy="1638.5" r="2.6" fill="#444"/>
<circle cx="492.0" cy="1638.5" r="2.6" fill="#444"/>
<circle cx="530.0" cy="1638.5" r="2.6" fill="#444"/>
<text x="492.5" y="1695.8" text-anchor="middle" style="fill:#3a3a3a;stroke:#3a3a3a;stroke-width:0.4px;">DEFROSTER</text>
<text x="492.5" y="1710.0" text-anchor="middle" style="fill:#3a3a3a;stroke:#3a3a3a;stroke-width:0.4px;">CONTROL MOTOR</text>
<rect x="570.0" y="1637.5" width="105" height="46" rx="5" fill="none" stroke="#777" stroke-width="2"/>
<path d="M578.0 1640 L578.0 1668 Q578.0 1674 584.0 1674 L661.0 1674 Q667.0 1674 667.0 1668 L667.0 1640" fill="none" stroke="#808080" stroke-width="1.6"/>
<path d="M600.0 1648 Q622.0 1660 645.0 1648" fill="none" stroke="#999" stroke-width="1.2"/>
<path d="M622.0 1640.0 L622.0 1662.0" stroke="#555" stroke-width="1.5" fill="none" stroke-linejoin="round"/>
<circle cx="622.0" cy="1667.0" r="3.2" fill="#333"/>
<path d="M608.0 1667.0 L636.0 1667.0" stroke="#777" stroke-width="1.2" fill="none" stroke-linejoin="round"/>
<circle cx="583.0" cy="1638.5" r="2.6" fill="#444"/>
<circle cx="622.0" cy="1638.5" r="2.6" fill="#444"/>
<circle cx="660.0" cy="1638.5" r="2.6" fill="#444"/>
<text x="622.5" y="1695.8" text-anchor="middle" style="fill:#3a3a3a;stroke:#3a3a3a;stroke-width:0.4px;">CENTRAL FLAP</text>
<text x="622.5" y="1710.0" text-anchor="middle" style="fill:#3a3a3a;stroke:#3a3a3a;stroke-width:0.4px;">ACTUATOR</text>
<rect x="699.0" y="1637.5" width="105" height="46" rx="5" fill="none" stroke="#777" stroke-width="2"/>
<path d="M707.0 1640 L707.0 1668 Q707.0 1674 713.0 1674 L790.0 1674 Q796.0 1674 796.0 1668 L796.0 1640" fill="none" stroke="#808080" stroke-width="1.6"/>
<path d="M729.0 1648 Q751.0 1660 774.0 1648" fill="none" stroke="#999" stroke-width="1.2"/>
<path d="M751.0 1640.0 L751.0 1662.0" stroke="#555" stroke-width="1.5" fill="none" stroke-linejoin="round"/>
<circle cx="751.0" cy="1667.0" r="3.2" fill="#333"/>
<path d="M737.0 1667.0 L765.0 1667.0" stroke="#777" stroke-width="1.2" fill="none" stroke-linejoin="round"/>
<circle cx="712.0" cy="1638.5" r="2.6" fill="#444"/>
<circle cx="751.0" cy="1638.5" r="2.6" fill="#444"/>
<circle cx="789.0" cy="1638.5" r="2.6" fill="#444"/>
<text x="751.5" y="1695.8" text-anchor="middle" style="fill:#3a3a3a;stroke:#3a3a3a;stroke-width:0.4px;">FOOTWELL</text>
<text x="751.5" y="1710.0" text-anchor="middle" style="fill:#3a3a3a;stroke:#3a3a3a;stroke-width:0.4px;">FLAP MOTOR</text>
<rect x="827.0" y="1637.5" width="105" height="46" rx="5" fill="none" stroke="#777" stroke-width="2"/>
<path d="M835.0 1640 L835.0 1668 Q835.0 1674 841.0 1674 L918.0 1674 Q924.0 1674 924.0 1668 L924.0 1640" fill="none" stroke="#808080" stroke-width="1.6"/>
<path d="M857.0 1648 Q879.0 1660 902.0 1648" fill="none" stroke="#999" stroke-width="1.2"/>
<path d="M879.0 1640.0 L879.0 1662.0" stroke="#555" stroke-width="1.5" fill="none" stroke-linejoin="round"/>
<circle cx="879.0" cy="1667.0" r="3.2" fill="#333"/>
<path d="M865.0 1667.0 L893.0 1667.0" stroke="#777" stroke-width="1.2" fill="none" stroke-linejoin="round"/>
<circle cx="840.0" cy="1638.5" r="2.6" fill="#444"/>
<circle cx="879.0" cy="1638.5" r="2.6" fill="#444"/>
<circle cx="917.0" cy="1638.5" r="2.6" fill="#444"/>
<text x="879.5" y="1695.8" text-anchor="middle" style="fill:#3a3a3a;stroke:#3a3a3a;stroke-width:0.4px;">TEMPERATURE</text>
<text x="879.5" y="1710.0" text-anchor="middle" style="fill:#3a3a3a;stroke:#3a3a3a;stroke-width:0.4px;">FLAP ACTUATOR</text>
<rect x="957.0" y="1637.5" width="105" height="46" rx="5" fill="none" stroke="#777" stroke-width="2"/>
<path d="M965.0 1640 L965.0 1668 Q965.0 1674 971.0 1674 L1048.0 1674 Q1054.0 1674 1054.0 1668 L1054.0 1640" fill="none" stroke="#808080" stroke-width="1.6"/>
<path d="M987.0 1648 Q1009.0 1660 1032.0 1648" fill="none" stroke="#999" stroke-width="1.2"/>
<path d="M1009.0 1640.0 L1009.0 1662.0" stroke="#555" stroke-width="1.5" fill="none" stroke-linejoin="round"/>
<circle cx="1009.0" cy="1667.0" r="3.2" fill="#333"/>
<path d="M995.0 1667.0 L1023.0 1667.0" stroke="#777" stroke-width="1.2" fill="none" stroke-linejoin="round"/>
<circle cx="970.0" cy="1638.5" r="2.6" fill="#444"/>
<circle cx="1009.0" cy="1638.5" r="2.6" fill="#444"/>
<circle cx="1047.0" cy="1638.5" r="2.6" fill="#444"/>
<text x="1009.5" y="1695.8" text-anchor="middle" style="fill:#3a3a3a;stroke:#3a3a3a;stroke-width:0.4px;">AIR FLOW FLAP</text>
<text x="1009.5" y="1710.0" text-anchor="middle" style="fill:#3a3a3a;stroke:#3a3a3a;stroke-width:0.4px;">CONTROL MOTOR</text>
<text x="1009.5" y="1724.2" text-anchor="middle" style="fill:#3a3a3a;stroke:#3a3a3a;stroke-width:0.4px;">FRESH AIR BLOWER</text>
<path d="M528.0 1356.8 L528.0 1617.0 L530.0 1632.0" stroke="#f05a5a" stroke-width="2.2" fill="none" stroke-linejoin="round"/>
<path d="M547.5 1617.0 L547.5 1541.5 L585.0 1541.5 L585.0 1617.0" stroke="#f05a5a" stroke-width="2.2" fill="none" stroke-linejoin="round"/>
<path d="M547.5 1617.0 L530.0 1632.0" stroke="#f05a5a" stroke-width="2.0" fill="none" stroke-linejoin="round"/>
<path d="M585.0 1617.0 L583.0 1632.0" stroke="#f05a5a" stroke-width="2.0" fill="none" stroke-linejoin="round"/>
<path d="M601.5 1617.0 L601.5 1485.0 L787.5 1485.0 L787.5 1617.0" stroke="#f05a5a" stroke-width="2.2" fill="none" stroke-linejoin="round"/>
<path d="M601.5 1617.0 L583.0 1632.0" stroke="#f05a5a" stroke-width="2.0" fill="none" stroke-linejoin="round"/>
<path d="M787.5 1617.0 L789.0 1632.0" stroke="#f05a5a" stroke-width="2.0" fill="none" stroke-linejoin="round"/>
<path d="M805.5 1617.0 L805.5 1541.5 L843.0 1541.5 L843.0 1617.0" stroke="#f05a5a" stroke-width="2.2" fill="none" stroke-linejoin="round"/>
<path d="M805.5 1617.0 L789.0 1632.0" stroke="#f05a5a" stroke-width="2.0" fill="none" stroke-linejoin="round"/>
<path d="M843.0 1617.0 L840.0 1632.0" stroke="#f05a5a" stroke-width="2.0" fill="none" stroke-linejoin="round"/>
<path d="M858.5 1617.0 L858.5 1485.0 L1047.5 1485.0 L1047.5 1617.0" stroke="#f05a5a" stroke-width="2.2" fill="none" stroke-linejoin="round"/>
<path d="M858.5 1617.0 L840.0 1632.0" stroke="#f05a5a" stroke-width="2.0" fill="none" stroke-linejoin="round"/>
<path d="M1047.5 1617.0 L1047.0 1632.0" stroke="#f05a5a" stroke-width="2.0" fill="none" stroke-linejoin="round"/>
<path d="M491.5 1375.3 L491.5 1617.0 L492.0 1632.0" stroke="#c8bc90" stroke-width="2.2" fill="none" stroke-linejoin="round"/>
<path d="M510.0 1617.0 L510.0 1522.5 L622.6 1522.5 L622.6 1617.0" stroke="#c8bc90" stroke-width="2.2" fill="none" stroke-linejoin="round"/>
<path d="M510.0 1617.0 L492.0 1632.0" stroke="#c8bc90" stroke-width="2.0" fill="none" stroke-linejoin="round"/>
<path d="M622.6 1617.0 L622.0 1632.0" stroke="#c8bc90" stroke-width="2.0" fill="none" stroke-linejoin="round"/>
<path d="M640.0 1617.0 L640.0 1522.5 L752.6 1522.5 L752.6 1617.0" stroke="#c8bc90" stroke-width="2.2" fill="none" stroke-linejoin="round"/>
<path d="M640.0 1617.0 L622.0 1632.0" stroke="#c8bc90" stroke-width="2.0" fill="none" stroke-linejoin="round"/>
<path d="M752.6 1617.0 L751.0 1632.0" stroke="#c8bc90" stroke-width="2.0" fill="none" stroke-linejoin="round"/>
<path d="M768.0 1617.0 L768.0 1522.5 L880.0 1522.5 L880.0 1617.0" stroke="#c8bc90" stroke-width="2.2" fill="none" stroke-linejoin="round"/>
<path d="M768.0 1617.0 L751.0 1632.0" stroke="#c8bc90" stroke-width="2.0" fill="none" stroke-linejoin="round"/>
<path d="M880.0 1617.0 L879.0 1632.0" stroke="#c8bc90" stroke-width="2.0" fill="none" stroke-linejoin="round"/>
<path d="M898.0 1617.0 L898.0 1522.5 L1010.0 1522.5 L1010.0 1617.0" stroke="#c8bc90" stroke-width="2.2" fill="none" stroke-linejoin="round"/>
<path d="M898.0 1617.0 L879.0 1632.0" stroke="#c8bc90" stroke-width="2.0" fill="none" stroke-linejoin="round"/>
<path d="M1010.0 1617.0 L1009.0 1632.0" stroke="#c8bc90" stroke-width="2.0" fill="none" stroke-linejoin="round"/>
<path d="M451.5 1393.8 L451.5 1617.0 L453.0 1632.0" stroke="#f4f07a" stroke-width="2.2" fill="none" stroke-linejoin="round"/>
<path d="M470.0 1617.0 L470.0 1504.0 L663.0 1504.0 L663.0 1617.0" stroke="#f4f07a" stroke-width="2.2" fill="none" stroke-linejoin="round"/>
<path d="M470.0 1617.0 L453.0 1632.0" stroke="#f4f07a" stroke-width="2.0" fill="none" stroke-linejoin="round"/>
<path d="M663.0 1617.0 L660.0 1632.0" stroke="#f4f07a" stroke-width="2.0" fill="none" stroke-linejoin="round"/>
<path d="M680.0 1617.0 L680.0 1541.5 L716.0 1541.5 L716.0 1617.0" stroke="#f4f07a" stroke-width="2.2" fill="none" stroke-linejoin="round"/>
<path d="M680.0 1617.0 L660.0 1632.0" stroke="#f4f07a" stroke-width="2.0" fill="none" stroke-linejoin="round"/>
<path d="M716.0 1617.0 L712.0 1632.0" stroke="#f4f07a" stroke-width="2.0" fill="none" stroke-linejoin="round"/>
<path d="M733.0 1617.0 L733.0 1504.0 L920.0 1504.0 L920.0 1617.0" stroke="#f4f07a" stroke-width="2.2" fill="none" stroke-linejoin="round"/>
<path d="M733.0 1617.0 L712.0 1632.0" stroke="#f4f07a" stroke-width="2.0" fill="none" stroke-linejoin="round"/>
<path d="M920.0 1617.0 L917.0 1632.0" stroke="#f4f07a" stroke-width="2.0" fill="none" stroke-linejoin="round"/>
<path d="M937.0 1617.0 L937.0 1541.5 L972.0 1541.5 L972.0 1617.0" stroke="#f4f07a" stroke-width="2.2" fill="none" stroke-linejoin="round"/>
<path d="M937.0 1617.0 L917.0 1632.0" stroke="#f4f07a" stroke-width="2.0" fill="none" stroke-linejoin="round"/>
<path d="M972.0 1617.0 L970.0 1632.0" stroke="#f4f07a" stroke-width="2.0" fill="none" stroke-linejoin="round"/>
<text transform="translate(449.3,1607.5) rotate(-90)" style="font-size:10px;fill:#919063;stroke:#919063;stroke-width:0.7px">YEL</text>
<text transform="translate(461.0,1607.5) rotate(-90)" style="font-size:10px;fill:#919063;stroke:#919063;stroke-width:0.7px">T6</text>
<text transform="translate(467.8,1607.5) rotate(-90)" style="font-size:10px;fill:#919063;stroke:#919063;stroke-width:0.7px">YEL</text>
<text transform="translate(479.5,1607.5) rotate(-90)" style="font-size:10px;fill:#919063;stroke:#919063;stroke-width:0.7px">T8</text>
<text transform="translate(489.3,1607.5) rotate(-90)" style="font-size:10px;fill:#817c6b;stroke:#817c6b;stroke-width:0.7px">BRN</text>
<text transform="translate(501.0,1607.5) rotate(-90)" style="font-size:10px;fill:#817c6b;stroke:#817c6b;stroke-width:0.7px">T6a</text>
<text transform="translate(507.8,1607.5) rotate(-90)" style="font-size:10px;fill:#817c6b;stroke:#817c6b;stroke-width:0.7px">BRN</text>
<text transform="translate(519.5,1607.5) rotate(-90)" style="font-size:10px;fill:#817c6b;stroke:#817c6b;stroke-width:0.7px">T8b</text>
<text transform="translate(525.8,1607.5) rotate(-90)" style="font-size:10px;fill:#905757;stroke:#905757;stroke-width:0.7px">RED</text>
<text transform="translate(537.5,1607.5) rotate(-90)" style="font-size:10px;fill:#905757;stroke:#905757;stroke-width:0.7px">T6c</text>
<text transform="translate(545.3,1607.5) rotate(-90)" style="font-size:10px;fill:#905757;stroke:#905757;stroke-width:0.7px">RED</text>
<text transform="translate(557.0,1607.5) rotate(-90)" style="font-size:10px;fill:#905757;stroke:#905757;stroke-width:0.7px">T3</text>
<text transform="translate(582.8,1607.5) rotate(-90)" style="font-size:10px;fill:#905757;stroke:#905757;stroke-width:0.7px">RED</text>
<text transform="translate(594.5,1607.5) rotate(-90)" style="font-size:10px;fill:#905757;stroke:#905757;stroke-width:0.7px">T6</text>
<text transform="translate(599.3,1607.5) rotate(-90)" style="font-size:10px;fill:#905757;stroke:#905757;stroke-width:0.7px">RED</text>
<text transform="translate(611.0,1607.5) rotate(-90)" style="font-size:10px;fill:#905757;stroke:#905757;stroke-width:0.7px">T8</text>
<text transform="translate(620.4,1607.5) rotate(-90)" style="font-size:10px;fill:#817c6b;stroke:#817c6b;stroke-width:0.7px">BRN</text>
<text transform="translate(632.1,1607.5) rotate(-90)" style="font-size:10px;fill:#817c6b;stroke:#817c6b;stroke-width:0.7px">T6a</text>
<text transform="translate(637.8,1607.5) rotate(-90)" style="font-size:10px;fill:#817c6b;stroke:#817c6b;stroke-width:0.7px">BRN</text>
<text transform="translate(649.5,1607.5) rotate(-90)" style="font-size:10px;fill:#817c6b;stroke:#817c6b;stroke-width:0.7px">T8b</text>
<text transform="translate(660.8,1607.5) rotate(-90)" style="font-size:10px;fill:#919063;stroke:#919063;stroke-width:0.7px">YEL</text>
<text transform="translate(672.5,1607.5) rotate(-90)" style="font-size:10px;fill:#919063;stroke:#919063;stroke-width:0.7px">T6c</text>
<text transform="translate(677.8,1607.5) rotate(-90)" style="font-size:10px;fill:#919063;stroke:#919063;stroke-width:0.7px">YEL</text>
<text transform="translate(689.5,1607.5) rotate(-90)" style="font-size:10px;fill:#919063;stroke:#919063;stroke-width:0.7px">T3</text>
<text transform="translate(713.8,1607.5) rotate(-90)" style="font-size:10px;fill:#919063;stroke:#919063;stroke-width:0.7px">YEL</text>
<text transform="translate(725.5,1607.5) rotate(-90)" style="font-size:10px;fill:#919063;stroke:#919063;stroke-width:0.7px">T6</text>
<text transform="translate(730.8,1607.5) rotate(-90)" style="font-size:10px;fill:#919063;stroke:#919063;stroke-width:0.7px">YEL</text>
<text transform="translate(742.5,1607.5) rotate(-90)" style="font-size:10px;fill:#919063;stroke:#919063;stroke-width:0.7px">T8</text>
<text transform="translate(750.4,1607.5) rotate(-90)" style="font-size:10px;fill:#817c6b;stroke:#817c6b;stroke-width:0.7px">BRN</text>
<text transform="translate(762.1,1607.5) rotate(-90)" style="font-size:10px;fill:#817c6b;stroke:#817c6b;stroke-width:0.7px">T6a</text>
<text transform="translate(765.8,1607.5) rotate(-90)" style="font-size:10px;fill:#817c6b;stroke:#817c6b;stroke-width:0.7px">BRN</text>
<text transform="translate(777.5,1607.5) rotate(-90)" style="font-size:10px;fill:#817c6b;stroke:#817c6b;stroke-width:0.7px">T8b</text>
<text transform="translate(785.3,1607.5) rotate(-90)" style="font-size:10px;fill:#905757;stroke:#905757;stroke-width:0.7px">RED</text>
<text transform="translate(797.0,1607.5) rotate(-90)" style="font-size:10px;fill:#905757;stroke:#905757;stroke-width:0.7px">T6c</text>
<text transform="translate(803.3,1607.5) rotate(-90)" style="font-size:10px;fill:#905757;stroke:#905757;stroke-width:0.7px">RED</text>
<text transform="translate(815.0,1607.5) rotate(-90)" style="font-size:10px;fill:#905757;stroke:#905757;stroke-width:0.7px">T3</text>
<text transform="translate(840.8,1607.5) rotate(-90)" style="font-size:10px;fill:#905757;stroke:#905757;stroke-width:0.7px">RED</text>
<text transform="translate(852.5,1607.5) rotate(-90)" style="font-size:10px;fill:#905757;stroke:#905757;stroke-width:0.7px">T6</text>
<text transform="translate(856.3,1607.5) rotate(-90)" style="font-size:10px;fill:#905757;stroke:#905757;stroke-width:0.7px">RED</text>
<text transform="translate(868.0,1607.5) rotate(-90)" style="font-size:10px;fill:#905757;stroke:#905757;stroke-width:0.7px">T8</text>
<text transform="translate(877.8,1607.5) rotate(-90)" style="font-size:10px;fill:#817c6b;stroke:#817c6b;stroke-width:0.7px">BRN</text>
<text transform="translate(889.5,1607.5) rotate(-90)" style="font-size:10px;fill:#817c6b;stroke:#817c6b;stroke-width:0.7px">T6a</text>
<text transform="translate(895.8,1607.5) rotate(-90)" style="font-size:10px;fill:#817c6b;stroke:#817c6b;stroke-width:0.7px">BRN</text>
<text transform="translate(907.5,1607.5) rotate(-90)" style="font-size:10px;fill:#817c6b;stroke:#817c6b;stroke-width:0.7px">T8b</text>
<text transform="translate(917.8,1607.5) rotate(-90)" style="font-size:10px;fill:#919063;stroke:#919063;stroke-width:0.7px">YEL</text>
<text transform="translate(929.5,1607.5) rotate(-90)" style="font-size:10px;fill:#919063;stroke:#919063;stroke-width:0.7px">T6c</text>
<text transform="translate(934.8,1607.5) rotate(-90)" style="font-size:10px;fill:#919063;stroke:#919063;stroke-width:0.7px">YEL</text>
<text transform="translate(946.5,1607.5) rotate(-90)" style="font-size:10px;fill:#919063;stroke:#919063;stroke-width:0.7px">T3</text>
<text transform="translate(969.8,1607.5) rotate(-90)" style="font-size:10px;fill:#919063;stroke:#919063;stroke-width:0.7px">YEL</text>
<text transform="translate(981.5,1607.5) rotate(-90)" style="font-size:10px;fill:#919063;stroke:#919063;stroke-width:0.7px">T6</text>
<text transform="translate(1007.8,1607.5) rotate(-90)" style="font-size:10px;fill:#817c6b;stroke:#817c6b;stroke-width:0.7px">BRN</text>
<text transform="translate(1019.5,1607.5) rotate(-90)" style="font-size:10px;fill:#817c6b;stroke:#817c6b;stroke-width:0.7px">T8</text>
<text transform="translate(1045.3,1607.5) rotate(-90)" style="font-size:10px;fill:#905757;stroke:#905757;stroke-width:0.7px">RED</text>
<text transform="translate(1057.0,1607.5) rotate(-90)" style="font-size:10px;fill:#905757;stroke:#905757;stroke-width:0.7px">T6a</text>
<rect x="1119.6" y="1637" width="166" height="57" rx="6" fill="none" stroke="#9a9a9a" stroke-width="1.6"/>
<rect x="1130" y="1644" width="40" height="42" fill="none" stroke="#aaa" stroke-width="1.3"/>
<rect x="1236" y="1644" width="40" height="42" fill="none" stroke="#aaa" stroke-width="1.3"/>
<path d="M1181.0 1650.0 L1181.0 1680.0" stroke="#666" stroke-width="3" fill="none" stroke-linejoin="round"/>
<path d="M1225.0 1650.0 L1225.0 1680.0" stroke="#666" stroke-width="3" fill="none" stroke-linejoin="round"/>
<path d="M1196 1660 L1210 1666 L1196 1672 Z" fill="#444"/>
<circle cx="1138.7" cy="1638.0" r="2.6" fill="#555"/>
<path d="M1138.7 1617.0 L1138.7 1636.0" stroke="#888" stroke-width="1.5" fill="none" stroke-linejoin="round"/>
<text transform="translate(1135.2,1608) rotate(-90)" style="font-size:10.5px;fill:#666;stroke:#666;stroke-width:0.6px">GRY</text>
<circle cx="1175.0" cy="1638.0" r="2.6" fill="#555"/>
<path d="M1175.0 1617.0 L1175.0 1636.0" stroke="#888" stroke-width="1.5" fill="none" stroke-linejoin="round"/>
<text transform="translate(1171.5,1608) rotate(-90)" style="font-size:10.5px;fill:#666;stroke:#666;stroke-width:0.6px">GRY</text>
<circle cx="1229.0" cy="1638.0" r="2.6" fill="#555"/>
<path d="M1229.0 1617.0 L1229.0 1636.0" stroke="#888" stroke-width="1.5" fill="none" stroke-linejoin="round"/>
<text transform="translate(1225.5,1608) rotate(-90)" style="font-size:10.5px;fill:#666;stroke:#666;stroke-width:0.6px">GRY</text>
<circle cx="1267.0" cy="1638.0" r="2.6" fill="#555"/>
<path d="M1267.0 1617.0 L1267.0 1636.0" stroke="#888" stroke-width="1.5" fill="none" stroke-linejoin="round"/>
<text transform="translate(1263.5,1608) rotate(-90)" style="font-size:10.5px;fill:#666;stroke:#666;stroke-width:0.6px">GRY</text>
<text x="1201.0" y="1705.5" text-anchor="middle" style="fill:#3a3a3a;stroke:#3a3a3a;stroke-width:0.4px;">MOTOR POSITION SENSOR</text>
<text x="1205.0" y="1720.0" text-anchor="middle" style="fill:#3a3a3a;stroke:#3a3a3a;stroke-width:0.4px;">CONTROL MOTOR</text>
</g>
</svg>
</body></html>
